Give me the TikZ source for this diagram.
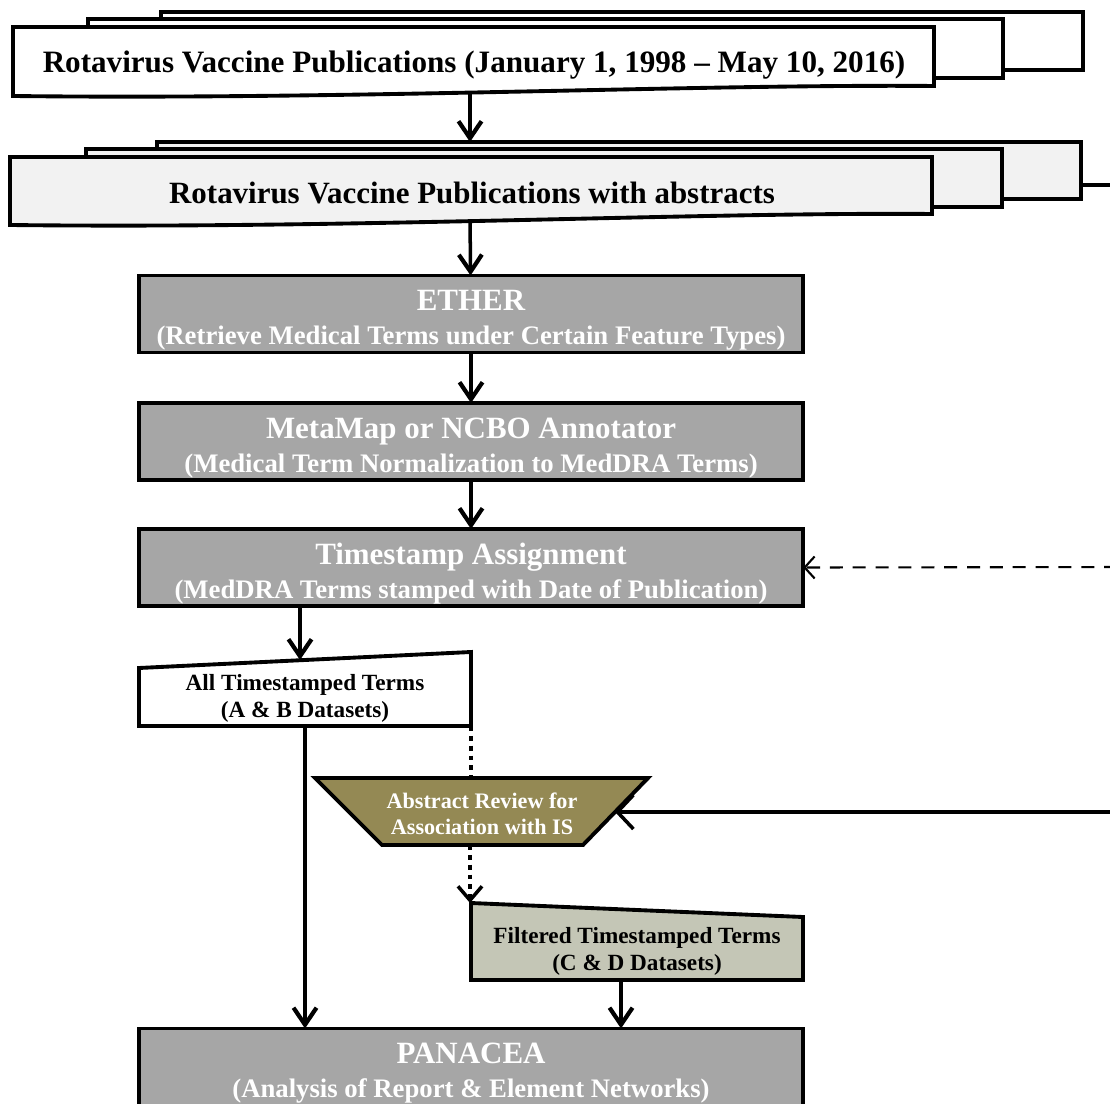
\documentclass[tikz,border=0pt]{standalone}
\usepackage{fontspec}
\setmainfont{Liberation Serif}
\usetikzlibrary{arrows.meta}

\definecolor{procgray}{RGB}{166,166,166}
\definecolor{sheetgray}{RGB}{242,242,242}
\definecolor{reviewolive}{RGB}{148,137,84}
\definecolor{filtergray}{RGB}{196,198,182}

\begin{document}
\begin{tikzpicture}[x=0.01cm, y=-0.01cm,
  every node/.style={font=\bfseries, align=center, inner sep=0pt, outer sep=0pt},
  sheet/.style={draw=black, line width=1.1pt},
  procbox/.style={draw=black, fill=procgray, line width=1.1pt, text=white,
    minimum width=6.64cm, minimum height=0.77cm},
  smalltext/.style={font=\bfseries\fontsize{6.6}{7.7}\selectfont},
  flow/.style={line width=1pt, -{Straight Barb[length=1.7mm,width=2.3mm,line width=1.2pt]}},
  dotflow/.style={line width=1.1pt, dash pattern=on 1.4pt off 1.4pt},
  feedback/.style={line width=1pt, -{Straight Barb[length=1.6mm,width=3.4mm,line width=1pt]}},
  recheck/.style={line width=0.6pt, dash pattern=on 3.7pt off 2.8pt,
    -{Straight Barb[length=1mm,width=2.2mm,line width=0.6pt]}}]
\useasboundingbox (0,0) rectangle (1110,1104);
\clip (0,0) rectangle (1110,1104);

% all publications
\draw[sheet, fill=white] (161,12) rectangle (1083,70);
\draw[sheet, fill=white] (88,19) rectangle (1003,78);
\draw[sheet, fill=white] (13,27) -- (934,27) -- (934,86)
  .. controls (700,84) and (350,100) .. (13,96) -- cycle;
\node (pubs) at (474,65) {\fontsize{8.85}{10}\selectfont Rotavirus Vaccine Publications (January 1, 1998 -- May 10, 2016)};
\coordinate (pubs-out) at (470,91);

% publications with abstracts
\draw[sheet, fill=sheetgray] (157,142) rectangle (1081,199);
\coordinate (abst-in) at (470,142);
\draw[sheet, fill=sheetgray] (86,149) rectangle (1002,207);
\draw[sheet, fill=sheetgray] (10,157) -- (932,157) -- (932,214)
  .. controls (700,212) and (350,229) .. (10,225) -- cycle;
\node (abst) at (472,193) {\fontsize{8.8}{10}\selectfont Rotavirus Vaccine Publications with abstracts};
\coordinate (abst-out) at (470,220);
\coordinate (abst-side) at (1081,185);

% processing steps
\node[procbox] (ether) at (471,314) {{\fontsize{8.8}{9.2}\selectfont\rule{0pt}{9.4pt}ETHER}\\[-2.4pt]
  {\fontsize{7.6}{9.2}\selectfont (Retrieve Medical Terms under Certain Feature Types)}};
\node[procbox] (metamap) at (471,441.5) {{\fontsize{8.8}{9.2}\selectfont\rule{0pt}{9.4pt}MetaMap or NCBO Annotator}\\[-2.4pt]
  {\fontsize{7.6}{9.2}\selectfont (Medical Term Normalization to MedDRA Terms)}};
\node[procbox] (stamp) at (471,567.5) {{\fontsize{8.8}{9.2}\selectfont\rule{0pt}{9.4pt}Timestamp Assignment}\\[-2.4pt]
  {\fontsize{7.6}{9.2}\selectfont (MedDRA Terms stamped with Date of Publication)}};

% all timestamped terms
\draw[sheet, fill=white] (139,668) -- (471,652) -- (471,726) -- (139,726) -- cycle;
\node[smalltext] (allterms) at (305,698) {All Timestamped Terms\\(A \& B Datasets)};
\coordinate (allterms-in) at (300,660);
\coordinate (allterms-out) at (305,726);
\coordinate (allterms-side) at (471,726);

% abstract review
\draw[sheet, fill=reviewolive] (315,778) -- (648,778) -- (583,845) -- (382,845) -- cycle;
\node[text=white, font=\bfseries\fontsize{6.3}{7.4}\selectfont] (review) at (482,814) {Abstract Review for\\Association with IS};
\coordinate (review-in) at (471,778);
\coordinate (review-out) at (470,845);
\coordinate (review-side) at (615,812);

% filtered timestamped terms
\draw[sheet, fill=filtergray] (471,903) -- (803,917) -- (803,980) -- (471,980) -- cycle;
\node[smalltext] (filtered) at (637,951) {Filtered Timestamped Terms\\(C \& D Datasets)};
\coordinate (filtered-in) at (470,903);
\coordinate (filtered-out) at (621,980);

% network analysis
\node[procbox] (panacea) at (471,1067) {{\fontsize{8.8}{9.2}\selectfont\rule{0pt}{9.4pt}PANACEA}\\[-2.4pt]
  {\fontsize{7.6}{9.2}\selectfont (Analysis of Report \& Element Networks)}};

% off-page ends
\coordinate (side-top) at (1140,185);
\coordinate (side-mid) at (1140,812);
\coordinate (side-dash) at (1140,567);

\draw[flow] (pubs-out) -- (abst-in);
\draw[flow] (abst-out) -- (ether);
\draw[flow] (ether) -- (metamap);
\draw[flow] (metamap) -- (stamp);
\draw[flow] (stamp.south -| allterms-in) -- (allterms-in);
\draw[flow] (allterms-out) -- (panacea.north -| allterms-out);
\draw[dotflow] (allterms-side) -- (review-in);
\draw[dotflow, -{Straight Barb[length=1.4mm,width=2.4mm,line width=1pt]}] (review-out) -- (filtered-in);
\draw[flow] (filtered-out) -- (panacea.north -| filtered-out);
\draw[line width=1.1pt] (abst-side) -- (side-top) -- (side-mid);
\draw[feedback] (side-mid) -- (review-side);
\draw[recheck] (side-dash) -- (stamp.east);
\end{tikzpicture}
\end{document}
